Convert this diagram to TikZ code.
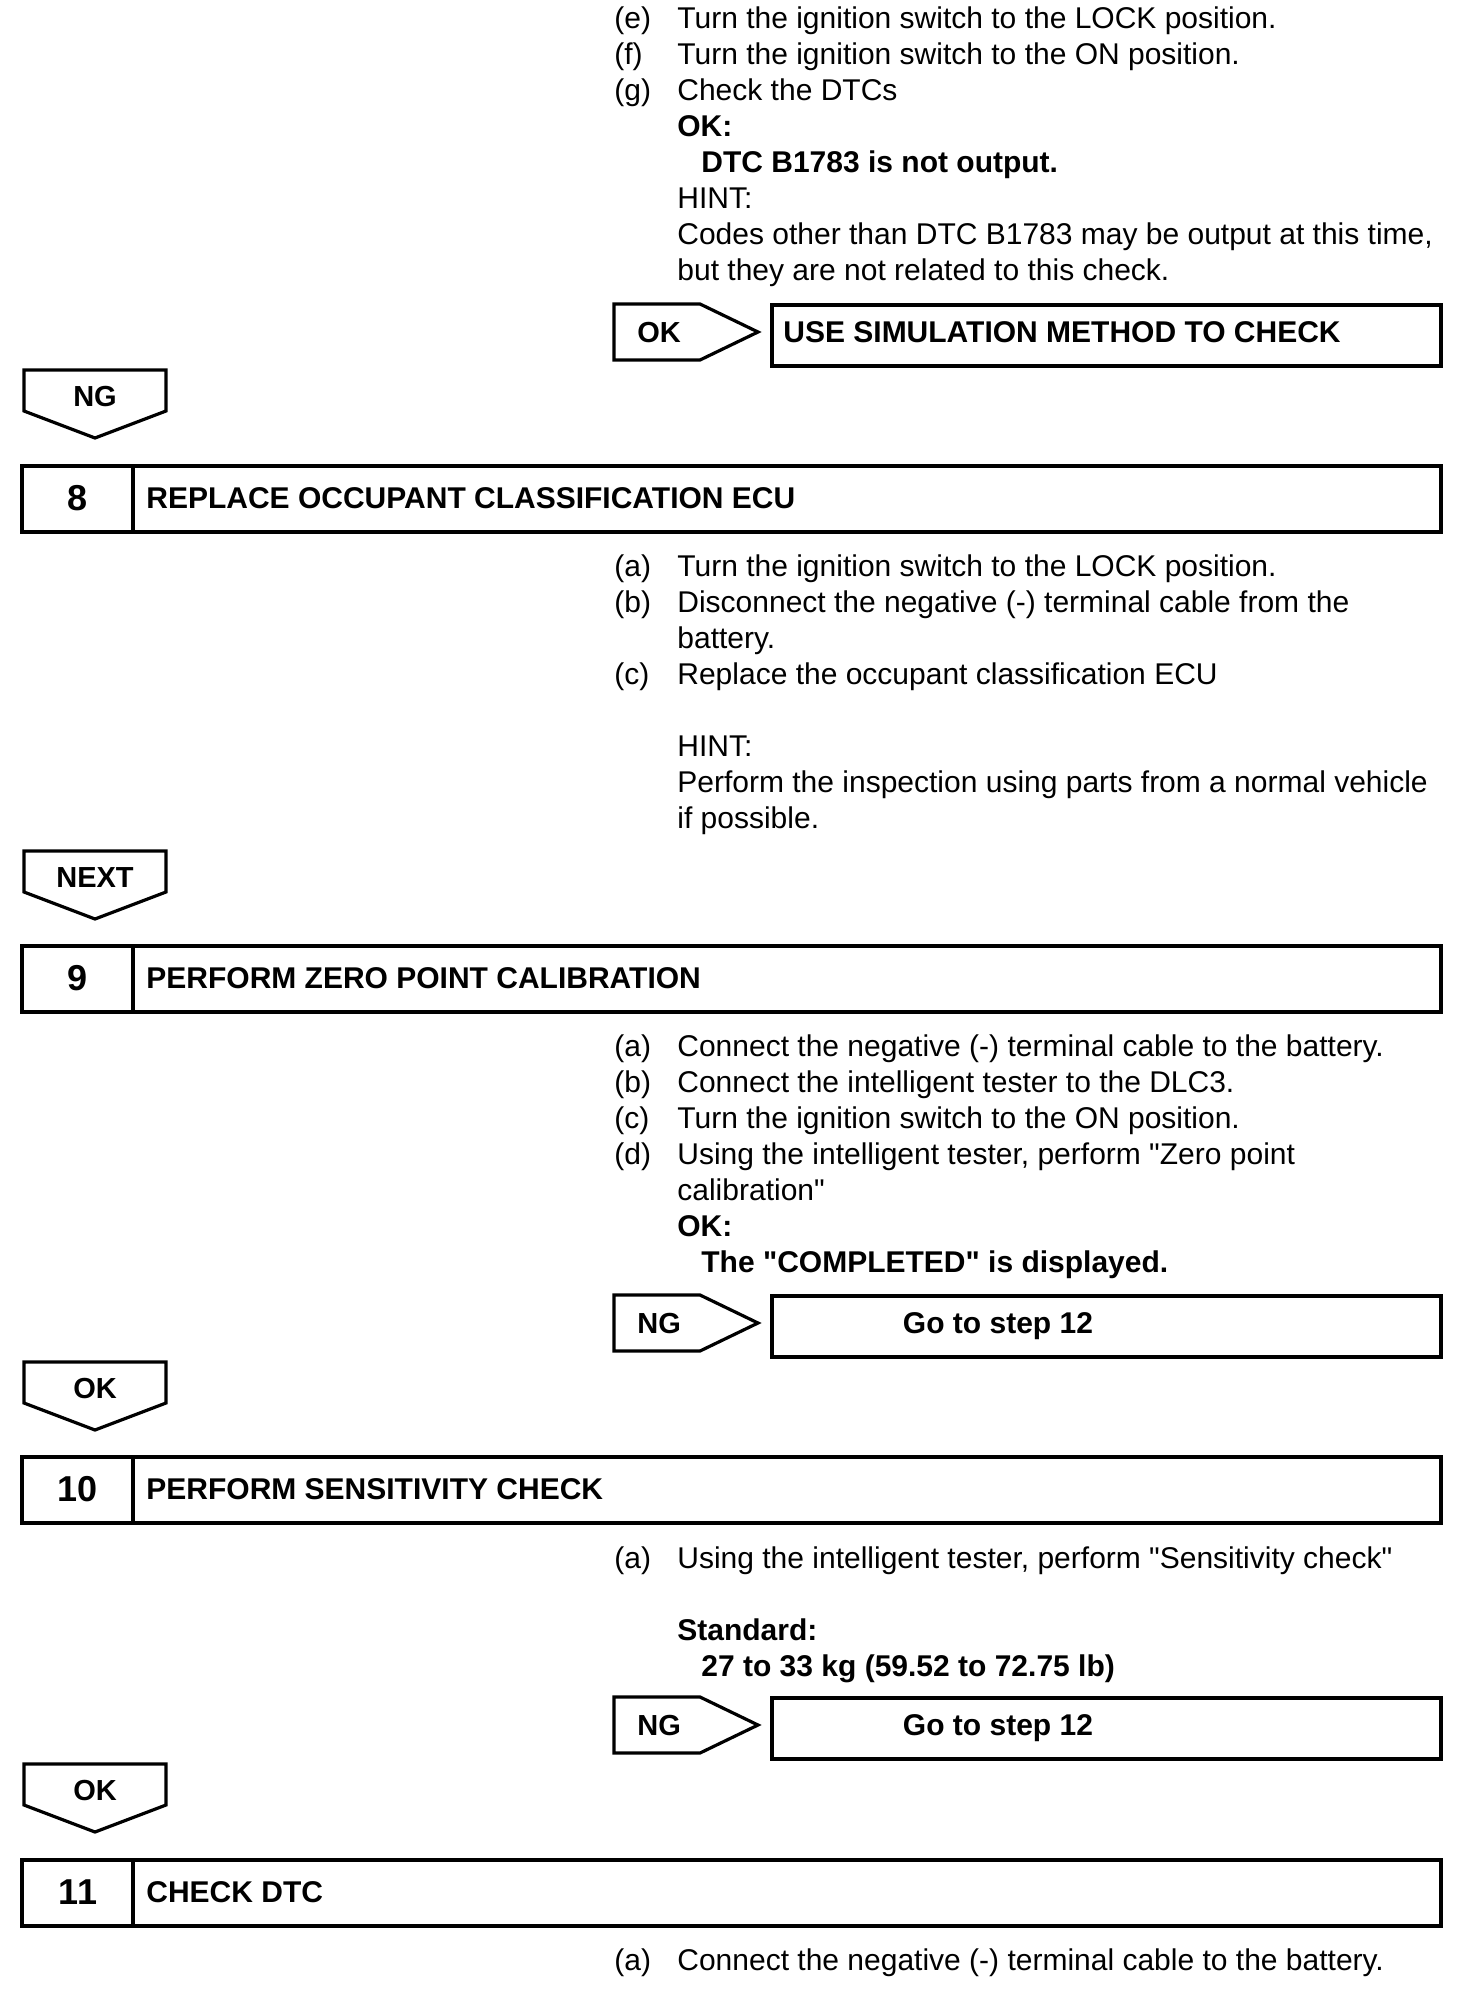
\documentclass[tikz,border=0pt]{standalone}
\usepackage{fontspec}
\setmainfont{Liberation Sans}[Ligatures=TeXOff]
\newcommand\dnbox[3]{%
  \draw[lw] (24,#2) -- (166,#2) -- (166,#2+41) -- (95,#2+68) -- (24,#2+41) -- cycle;
  \node[albl,anchor=base] (#1) at (95,#2+36) {#3};}
\newcommand\stepbx[4]{%
  \draw[lw] (22,#2) rectangle (1441,#2+66);
  \draw[lw] (133,#2) -- (133,#2+66);
  \node[numf,anchor=base] (#1n) at (78,#2+44) {#3};
  \node[ttl,anchor=base west] (#1t) at (146,#2+42) {#4};}
\begin{document}
\begin{tikzpicture}[x=0.5pt,y=-0.5pt,
  lw/.style={line width=1.6pt,line join=miter},
  txt/.style={anchor=base west,inner sep=0pt,font=\fontsize{15}{18}\selectfont},
  btxt/.style={anchor=base west,inner sep=0pt,font=\fontsize{15}{18}\selectfont\bfseries},
  ttl/.style={inner sep=0pt,font=\fontsize{15}{18}\selectfont\bfseries},
  numf/.style={inner sep=0pt,font=\fontsize{18}{20}\selectfont\bfseries},
  albl/.style={inner sep=0pt,font=\fontsize{14.5}{18}\selectfont\bfseries}]
\useasboundingbox (0,0) rectangle (1456,2002);

% ---- top block
\node[txt] (e1) at (614,28) {(e)};
\node[txt] (e2) at (677,28) {Turn the ignition switch to the LOCK position.};
\node[txt] (f1) at (614,64) {(f)};
\node[txt] (f2) at (677,64) {Turn the ignition switch to the ON position.};
\node[txt] (g1) at (614,100) {(g)};
\node[txt] (g2) at (677,100) {Check the DTCs};
\node[btxt] (g3) at (677,136) {OK:};
\node[btxt] (g4) at (701,172) {DTC B1783 is not output.};
\node[txt] (g5) at (677,208) {HINT:};
\node[txt] (g6) at (677,244) {Codes other than DTC B1783 may be output at this time,};
\node[txt] (g7) at (677,280) {but they are not related to this check.};

% OK -> use simulation
\draw[lw] (614,304) -- (700,304) -- (758,332) -- (700,360) -- (614,360) -- cycle;
\node[albl,anchor=base west] (ok1) at (637,342) {OK};
\draw[lw] (772,305) rectangle (1441,366);
\node[ttl,anchor=base west] (sim) at (783,342) {USE SIMULATION METHOD TO CHECK};

\dnbox{ng1}{370}{NG}

% ---- step 8
\stepbx{s8}{466}{8}{REPLACE OCCUPANT CLASSIFICATION ECU}
\node[txt] (a8) at (614,576) {(a)};
\node[txt] (a8t) at (677,576) {Turn the ignition switch to the LOCK position.};
\node[txt] (b8) at (614,612) {(b)};
\node[txt] (b8t) at (677,612) {Disconnect the negative (-) terminal cable from the};
\node[txt] (b8u) at (677,648) {battery.};
\node[txt] (c8) at (614,684) {(c)};
\node[txt] (c8t) at (677,684) {Replace the occupant classification ECU};
\node[txt] (h8) at (677,756) {HINT:};
\node[txt] (h8t) at (677,792) {Perform the inspection using parts from a normal vehicle};
\node[txt] (h8u) at (677,828) {if possible.};

\dnbox{nx}{851}{NEXT}

% ---- step 9
\stepbx{s9}{946}{9}{PERFORM ZERO POINT CALIBRATION}
\node[txt] (a9) at (614,1056) {(a)};
\node[txt] (a9t) at (677,1056) {Connect the negative (-) terminal cable to the battery.};
\node[txt] (b9) at (614,1092) {(b)};
\node[txt] (b9t) at (677,1092) {Connect the intelligent tester to the DLC3.};
\node[txt] (c9) at (614,1128) {(c)};
\node[txt] (c9t) at (677,1128) {Turn the ignition switch to the ON position.};
\node[txt] (d9) at (614,1164) {(d)};
\node[txt] (d9t) at (677,1164) {Using the intelligent tester, perform "Zero point};
\node[txt] (d9u) at (677,1200) {calibration"};
\node[btxt] (ok9) at (677,1236) {OK:};
\node[btxt] (ok9t) at (701,1272) {The "COMPLETED" is displayed.};

\draw[lw] (614,1295) -- (700,1295) -- (758,1323) -- (700,1351) -- (614,1351) -- cycle;
\node[albl,anchor=base west] (ng9) at (637,1333) {NG};
\draw[lw] (772,1296) rectangle (1441,1357);
\node[ttl,anchor=base] (go9) at (998,1333) {Go to step 12};

\dnbox{ok10}{1362}{OK}

% ---- step 10
\stepbx{s10}{1457}{10}{PERFORM SENSITIVITY CHECK}
\node[txt] (a10) at (614,1568) {(a)};
\node[txt] (a10t) at (677,1568) {Using the intelligent tester, perform "Sensitivity check"};
\node[btxt] (st10) at (677,1640) {Standard:};
\node[btxt] (st10t) at (701,1676) {27 to 33 kg (59.52 to 72.75 lb)};

\draw[lw] (614,1697) -- (700,1697) -- (758,1725) -- (700,1753) -- (614,1753) -- cycle;
\node[albl,anchor=base west] (ng10) at (637,1735) {NG};
\draw[lw] (772,1698) rectangle (1441,1759);
\node[ttl,anchor=base] (go10) at (998,1735) {Go to step 12};

\dnbox{ok11}{1764}{OK}

% ---- step 11
\stepbx{s11}{1860}{11}{CHECK DTC}
\node[txt] (a11) at (614,1970) {(a)};
\node[txt] (a11t) at (677,1970) {Connect the negative (-) terminal cable to the battery.};
\end{tikzpicture}
\end{document}
